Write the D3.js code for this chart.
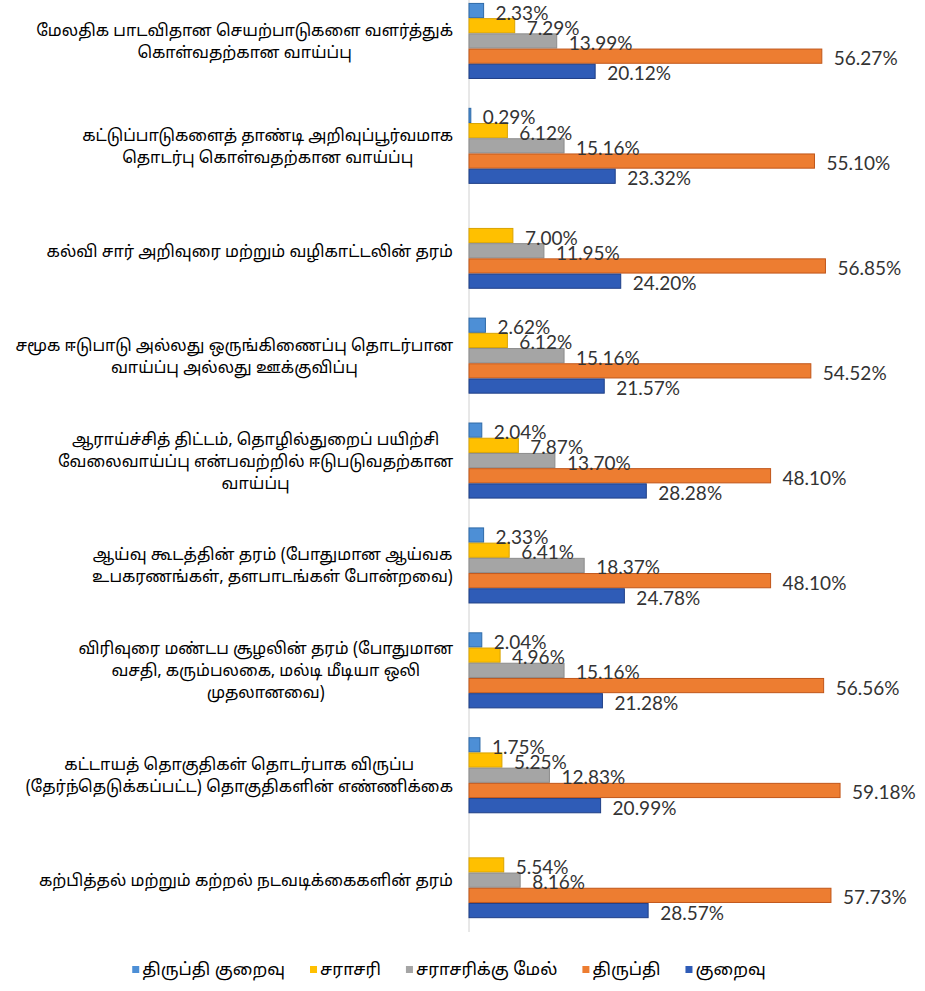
<!DOCTYPE html>
<html>
<head>
<meta charset="utf-8">
<script src="https://cdn.jsdelivr.net/npm/d3@7"></script>
<style>
  body { margin: 0; background: #fff; }
  svg { display: block; }
</style>
</head>
<body>
<div id="chart"></div>
<script>
// category labels, already wrapped the way the original shows them
const categories = [
  ["மேலதிக பாடவிதான செயற்பாடுகளை வளர்த்துக்", "கொள்வதற்கான   வாய்ப்பு"],
  ["கட்டுப்பாடுகளைத் தாண்டி அறிவுப்பூர்வமாக", "தொடர்பு கொள்வதற்கான வாய்ப்பு"],
  ["கல்வி சார் அறிவுரை மற்றும் வழிகாட்டலின் தரம்"],
  ["சமூக ஈடுபாடு அல்லது ஒருங்கிணைப்பு தொடர்பான", "வாய்ப்பு அல்லது ஊக்குவிப்பு"],
  ["ஆராய்ச்சித் திட்டம், தொழில்துறைப் பயிற்சி", "வேலைவாய்ப்பு என்பவற்றில் ஈடுபடுவதற்கான", "வாய்ப்பு"],
  ["ஆய்வு கூடத்தின் தரம் (போதுமான ஆய்வக", "உபகரணங்கள், தளபாடங்கள் போன்றவை)"],
  ["விரிவுரை மண்டப சூழலின் தரம் (போதுமான", "வசதி, கரும்பலகை, மல்டி மீடியா ஒலி", "முதலானவை)"],
  ["கட்டாயத் தொகுதிகள் தொடர்பாக விருப்ப", "(தேர்ந்தெடுக்கப்பட்ட) தொகுதிகளின் எண்ணிக்கை"],
  ["கற்பித்தல் மற்றும் கற்றல் நடவடிக்கைகளின் தரம்"]
]

const seriesNames = ["திருப்தி குறைவு", "சராசரி", "சராசரிக்கு மேல்", "திருப்தி", "குறைவு"]

// null = no bar / label in the original
const lowSatisfaction = [2.33, 0.29, null, 2.62, 2.04, 2.33, 2.04, 1.75, null]
const average        = [7.29, 6.12, 7.00, 6.12, 7.87, 6.41, 4.96, 5.25, 5.54]
const aboveAverage   = [13.99, 15.16, 11.95, 15.16, 13.70, 18.37, 15.16, 12.83, 8.16]
const satisfied      = [56.27, 55.10, 56.85, 54.52, 48.10, 48.10, 56.56, 59.18, 57.73]
const low            = [20.12, 23.32, 24.20, 21.57, 28.28, 24.78, 21.28, 20.99, 28.57]

const seriesValues = [lowSatisfaction, average, aboveAverage, satisfied, low]

const fills   = ["#4d8fd6", "#ffc000", "#a5a5a5", "#ed7d31", "#2f5cb7"]
const strokes = ["#2e6aa8", "#d9a300", "#8c8c8c", "#c0561a", "#1f3f86"]

const width = 925, height = 991
const axisX = 469
const tamilFont = "'Noto Sans Tamil', 'Lohit Tamil', 'Latha', sans-serif"
const numFont = "Lato, 'Noto Sans', sans-serif"

const svg = d3.select("#chart").append("svg")
    .attr("width", width)
    .attr("height", height)

const x = d3.scaleLinear()
    .domain([0, 60])
    .range([axisX, axisX + 60 * 6.27])

const y = d3.scaleBand()
    .domain(d3.range(categories.length))
    .range([-11.5, 932.6])
    .paddingInner(0.275)
    .paddingOuter(0.1375)

const ySub = d3.scaleBand()
    .domain(d3.range(seriesNames.length))
    .range([0, y.bandwidth()])

// vertical category axis line
svg.append("line")
    .attr("x1", axisX).attr("x2", axisX)
    .attr("y1", 0).attr("y2", 932)
    .attr("stroke", "#d0d0d0")
    .attr("stroke-width", 1)

const group = svg.append("g")
    .selectAll("g")
    .data(categories)
    .join("g")
    .attr("transform", (d, i) => `translate(0,${y(i)})`)

group.each(function(lines, i) {
  const g = d3.select(this)

  const cells = seriesValues
      .map((vals, s) => ({ s, v: vals[i] }))
      .filter(d => d.v != null)

  g.selectAll("rect")
      .data(cells)
      .join("rect")
      .attr("x", x(0))
      .attr("y", d => ySub(d.s) + 0.5)
      .attr("width", d => Math.max(1, x(d.v) - x(0)))
      .attr("height", ySub.bandwidth() - 1)
      .attr("fill", d => fills[d.s])
      .attr("stroke", d => strokes[d.s])
      .attr("stroke-width", 1)

  g.selectAll("text.value")
      .data(cells)
      .join("text")
      .attr("class", "value")
      .attr("x", d => x(d.v) + 12)
      .attr("y", d => ySub(d.s) + ySub.bandwidth() / 2 + 9)
      .attr("font-family", numFont)
      .attr("font-size", 19)
      .attr("fill", "#333")
      .text(d => d.v.toFixed(2) + "%")

  // category label: lines centred on each other, block right aligned
  const lh = 22
  const t = g.append("text")
      .attr("font-family", tamilFont)
      .attr("font-size", 16.2)
      .attr("fill", "#000")
      .attr("text-anchor", "middle")
  const spans = t.selectAll("tspan")
      .data(lines)
      .join("tspan")
      .text(d => d)
  let maxW = 0
  spans.each(function() { maxW = Math.max(maxW, this.getComputedTextLength()) })
  const cx = 453 - maxW / 2
  const mid = y.bandwidth() / 2
  spans.attr("x", cx)
      .attr("y", (d, k) => mid + (k - (lines.length - 1) / 2) * lh + 6)
})

// legend
const legend = svg.append("g")
    .attr("font-family", tamilFont)
    .attr("font-size", 17)
let lx = 0
const items = legend.selectAll("g")
    .data(seriesNames)
    .join("g")
items.append("rect")
    .attr("width", 7).attr("height", 7)
    .attr("y", -9)
    .attr("fill", (d, i) => fills[i])
items.append("text")
    .attr("x", 10)
    .attr("fill", "#000")
    .text(d => d)
items.each(function() {
  const w = 10 + d3.select(this).select("text").node().getComputedTextLength()
  d3.select(this).attr("transform", `translate(${lx},0)`)
  lx += w + 25
})
legend.attr("transform", `translate(${449 - (lx - 25) / 2},975)`)
</script>
</body>
</html>
